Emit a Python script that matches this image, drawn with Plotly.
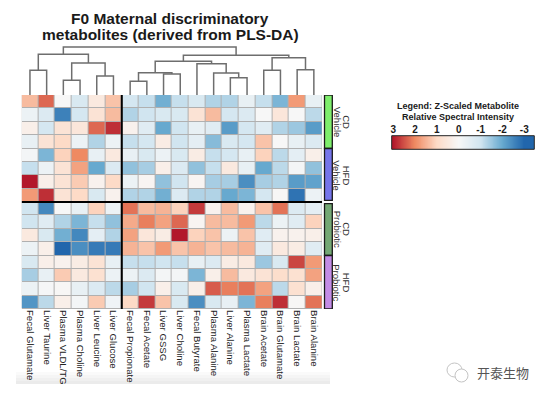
import plotly.graph_objects as go
import numpy as np

# ---------------- data ----------------
metabolites = ["Fecal Glutamate", "Liver Taurine", "Plasma VLDL/TG", "Plasma Choline",
               "Liver Leucine", "Liver Glucose", "Fecal Propionate", "Fecal Acetate",
               "Liver GSSG", "Liver Choline", "Fecal Butyrate", "Plasma Alanine",
               "Liver Alanine", "Plasma Lactate", "Brain Acetate", "Brain Glutamate",
               "Brain Lactate", "Brain Alanine"]

group_diet = ["CD", "HFD", "CD", "HFD"]
group_treat = ["Vehicle", "Vehicle", "Probiotic", "Probiotic"]
group_colors = ["#7EEE6C", "#7575EA", "#74A874", "#C38CE6"]

cd_vehicle = [
    [1.4, 2.3, 0.0, -0.8, 0.5, 1.3, -0.9, -1.1, -1.9, -1.1, -0.8, -1.3, -1.3, -0.4, -1.1, -1.8, 1.8, -0.4],
    [-0.3, -0.7, -2.6, -0.9, 0.7, 1.4, -1.3, -1.0, -0.8, -0.8, 0.7, 1.4, -0.9, -0.7, 0.0, 0.6, 0.0, -1.2],
    [0.3, -0.9, 0.7, 0.6, 2.3, 2.8, 0.2, -0.6, -2.0, -1.0, -0.4, -0.6, -2.2, -0.9, -0.6, -1.3, -1.5, -2.2],
    [-0.4, 0.7, 1.0, -0.3, -1.3, -0.3, -1.1, -0.9, 0.4, -1.0, -0.5, -1.7, -0.8, -0.9, 1.3, 0.0, -0.4, -0.7],
]
hfd_vehicle = [
    [-0.1, -1.8, 1.1, 2.0, -0.4, 0.5, -0.4, -0.8, -0.3, -0.8, 0.4, -1.1, -0.9, -0.4, 1.1, -1.2, -0.5, 0.3],
    [-1.1, -0.3, 0.7, 1.7, -2.0, -0.7, -1.6, -1.4, 0.3, -0.7, -1.6, -1.1, 0.5, -0.4, -2.0, -1.2, -0.1, -1.6],
    [3.0, 0.3, 0.7, 1.2, 0.2, 1.0, -0.3, 0.1, -1.6, -1.0, 0.1, -1.4, -1.4, -2.4, -1.4, -1.3, -2.2, -2.1],
    [1.8, 2.8, 0.7, 1.0, -0.8, 0.2, -1.3, -1.3, -1.9, -0.7, -1.3, -1.3, -2.0, -1.8, -0.9, 0.05, -2.8, -0.3],
]
cd_probiotic = [
    [-1.0, -2.5, 0.0, -0.4, 1.1, -0.3, 2.2, 1.4, 1.5, 1.1, 2.7, 0.2, 1.4, 0.2, 1.3, 2.2, -0.7, -0.5],
    [-1.0, -0.6, -1.3, -1.8, -1.1, -1.6, 1.6, 2.1, 1.7, 2.3, 0.1, 1.4, 1.4, 1.8, -1.2, -0.3, -0.6, 1.1],
    [0.5, -0.8, -1.9, -2.5, -0.5, -1.3, 1.7, 0.6, 0.4, 3.0, 1.1, 1.3, -0.3, 1.3, -0.6, 0.2, 0.2, 0.3],
    [-0.3, 0.3, -3.0, -2.4, -2.7, -2.7, 1.5, 1.3, 1.8, 1.3, 1.5, 1.3, 1.4, 1.5, -0.6, 0.5, 0.4, -0.6],
]
hfd_probiotic = [
    [-0.8, 0.3, 0.2, 0.4, 0.7, -0.4, -1.1, -1.1, -1.0, -1.1, -0.4, -0.7, 0.4, 0.5, -1.5, -0.8, 2.6, 1.8],
    [-1.4, -0.4, 1.2, 0.5, 0.8, -0.3, -0.3, -0.7, -0.1, -0.1, -1.8, 0.3, 1.4, 0.5, 0.7, 0.9, 0.8, 1.7],
    [-0.3, -0.05, 0.05, -0.4, -0.7, -1.2, -1.4, -1.0, 0.3, -0.8, 0.3, 2.4, 2.1, 2.2, 1.7, -1.2, 0.8, 0.3],
    [-2.3, -1.2, 0.3, -0.1, 1.2, -0.2, 1.0, 2.7, 1.3, -0.8, -2.4, -0.8, -0.4, -1.8, 2.1, 2.8, 0.05, 2.2],
]

# column dendrogram: (left child, right child, merge height); leaves 0..17, merges numbered from 18
dendro_merges = [
    (0, 1, 24.7), (2, 3, 14.7), (4, 5, 19.0), (19, 20, 32.0), (18, 21, 40.7),
    (6, 7, 13.7), (8, 9, 21.0), (23, 24, 22.3), (12, 13, 17.3), (11, 26, 22.0),
    (10, 27, 31.3), (25, 28, 33.7), (14, 15, 24.7), (16, 17, 25.3), (30, 31, 37.3),
    (29, 32, 39.7), (22, 33, 48.0),
]

legend_ticks = [3, 2, 1, 0, -1, -2, -3]

# ---------------- layout helpers ----------------
W, H = 545, 395
def px(x):
    return x / W
def py(y):
    return 1 - y / H

FONT = "Liberation Sans, Arial, sans-serif"
colorscale = [[0.0, "#2166AC"], [1/6, "#67A9CF"], [2/6, "#D1E5F0"], [0.5, "#F7F7F7"],
              [4/6, "#FDDBC7"], [5/6, "#EF8A62"], [1.0, "#B2182B"]]

Z = cd_vehicle + hfd_vehicle + cd_probiotic + hfd_probiotic
n_rows, n_cols = len(Z), len(metabolites)
per_group = len(cd_vehicle)

fig = go.Figure()

# heatmap
fig.add_trace(go.Heatmap(
    z=Z, x=list(range(n_cols)), y=list(range(n_rows)),
    colorscale=colorscale, zmin=-3, zmax=3, showscale=False,
    xgap=1, ygap=1, xaxis="x", yaxis="y", hoverinfo="z"))

# dendrogram lines
pos = {i: (float(i), 0.0) for i in range(n_cols)}
dx, dy = [], []
nid = n_cols
for a, b, h in dendro_merges:
    xa, ha = pos[a]
    xb, hb = pos[b]
    dx += [xa, xa, xb, xb, None]
    dy += [ha, h, h, hb, None]
    pos[nid] = ((xa + xb) / 2, h)
    nid += 1
fig.add_trace(go.Scatter(x=dx, y=dy, mode="lines", xaxis="x2", yaxis="y2",
                         line=dict(color="#6e6e6e", width=1.5), hoverinfo="skip",
                         showlegend=False))

# legend gradient strip (colour key)
lg_lo, lg_hi = -3.46, 3.07
lg_vals = np.linspace(lg_hi, lg_lo, 300)
fig.add_trace(go.Heatmap(z=[lg_vals], x=lg_vals, y=[0], colorscale=colorscale,
                         zmin=-3, zmax=3, showscale=False, xaxis="x3", yaxis="y3",
                         hoverinfo="skip"))

shapes = []
# grid background
shapes.append(dict(type="rect", xref="x", yref="y", x0=-0.5, x1=n_cols - 0.5,
                   y0=-0.5, y1=n_rows - 0.5, fillcolor="#b0b0b0",
                   line=dict(width=0), layer="below"))
# separators
shapes.append(dict(type="line", xref="x", yref="y", x0=5.5, x1=5.5, y0=-0.5,
                   y1=n_rows - 0.5, line=dict(color="black", width=2)))
shapes.append(dict(type="line", xref="x", yref="y", x0=-0.5, x1=n_cols - 0.5,
                   y0=2 * per_group - 0.5, y1=2 * per_group - 0.5,
                   line=dict(color="black", width=2)))

annotations = []
def note(x, y, text, size, color="#1a1a1a", family=FONT, angle=0, xref="paper", yref="paper"):
    annotations.append(dict(xref=xref, yref=yref, x=x, y=y, text=text, textangle=angle,
                            showarrow=False, xanchor="center", yanchor="middle",
                            font=dict(family=family, size=size, color=color)))

for g in range(len(group_diet)):
    y0 = g * per_group - 0.5
    y1 = (g + 1) * per_group - 0.5
    if g == 1:
        y1 -= 0.12
    if g == 2:
        y0 += 0.12
    shapes.append(dict(type="rect", xref="paper", yref="y", x0=px(324.5), x1=px(332.3),
                       y0=y0, y1=y1, fillcolor=group_colors[g],
                       line=dict(color="#1a1a1a", width=1.3)))
    ym = (g + 0.5) * per_group - 0.5
    note(px(346.5), ym, group_diet[g], 9.5, "#333333", angle=90, yref="y")
    note(px(337.0), ym, group_treat[g], 9.5, "#333333", angle=90, yref="y")

# legend strip border
shapes.append(dict(type="rect", xref="paper", yref="paper", x0=px(391.7), x1=px(534.3),
                   y0=py(149.3), y1=py(135.7), line=dict(color="#222222", width=1)))

# faint shading under labels
for i, c in enumerate(["#fafafa", "#f5f5f5", "#f0f0f0", "#ebebeb"]):
    shapes.append(dict(type="rect", xref="paper", yref="paper", x0=px(16), x1=px(330),
                       y0=py(372 + i * 3 + 3), y1=py(372 + i * 3), fillcolor=c,
                       line=dict(width=0), layer="below"))

# watermark icon
shapes.append(dict(type="circle", xref="paper", yref="paper", x0=px(447), x1=px(462),
                   y0=py(377), y1=py(363), line=dict(color="#c4c4c4", width=1)))
shapes.append(dict(type="circle", xref="paper", yref="paper", x0=px(455), x1=px(468),
                   y0=py(382), y1=py(369), line=dict(color="#c4c4c4", width=1),
                   fillcolor="white"))

# titles
note(px(170), py(18), "<b>F0 Maternal discriminatory</b>", 15.5)
note(px(170.5), py(34), "<b>metabolites (derived from PLS-DA)</b>", 15.5)
note(px(457.5), py(105.7), "<b>Legend: Z-Scaled Metabolite</b>", 9)
note(px(457.5), py(116.7), "<b>Relative Spectral Intensity</b>", 9)
note(px(503), py(372), "开泰生物", 13, "#555555", family="Noto Sans CJK SC")

fig.update_layout(
    width=W, height=H, margin=dict(l=0, r=0, t=0, b=0),
    paper_bgcolor="white", plot_bgcolor="white", showlegend=False,
    xaxis=dict(domain=[px(21.6), px(322.2)], range=[-0.5, n_cols - 0.5], anchor="y",
               tickmode="array", tickvals=list(range(n_cols)), ticktext=metabolites,
               tickangle=90, ticks="", showgrid=False, zeroline=False, showline=False,
               tickfont=dict(family=FONT, size=9.6, color="#222222")),
    yaxis=dict(domain=[py(309), py(95)], range=[n_rows - 0.5, -0.5], anchor="x",
               showticklabels=False, ticks="", showgrid=False, zeroline=False),
    xaxis2=dict(domain=[px(21.6), px(322.2)], range=[-0.5, n_cols - 0.5], anchor="y2",
                visible=False),
    yaxis2=dict(domain=[py(95), py(45)], range=[0, 50], anchor="x2", visible=False),
    xaxis3=dict(domain=[px(391.7), px(534.3)], range=[lg_hi, lg_lo], anchor="y3",
                side="top", tickmode="array", tickvals=legend_ticks,
                ticktext=["<b>%d</b>" % t for t in legend_ticks], ticks="",
                showgrid=False, zeroline=False, showline=False,
                tickfont=dict(family=FONT, size=10, color="#1a1a1a")),
    yaxis3=dict(domain=[py(149.3), py(135.7)], range=[-0.5, 0.5], anchor="x3", visible=False),
    shapes=shapes, annotations=annotations,
)

fig.write_html("out.html", config={"displayModeBar": False},
               post_script="document.body.style.margin='0';")
